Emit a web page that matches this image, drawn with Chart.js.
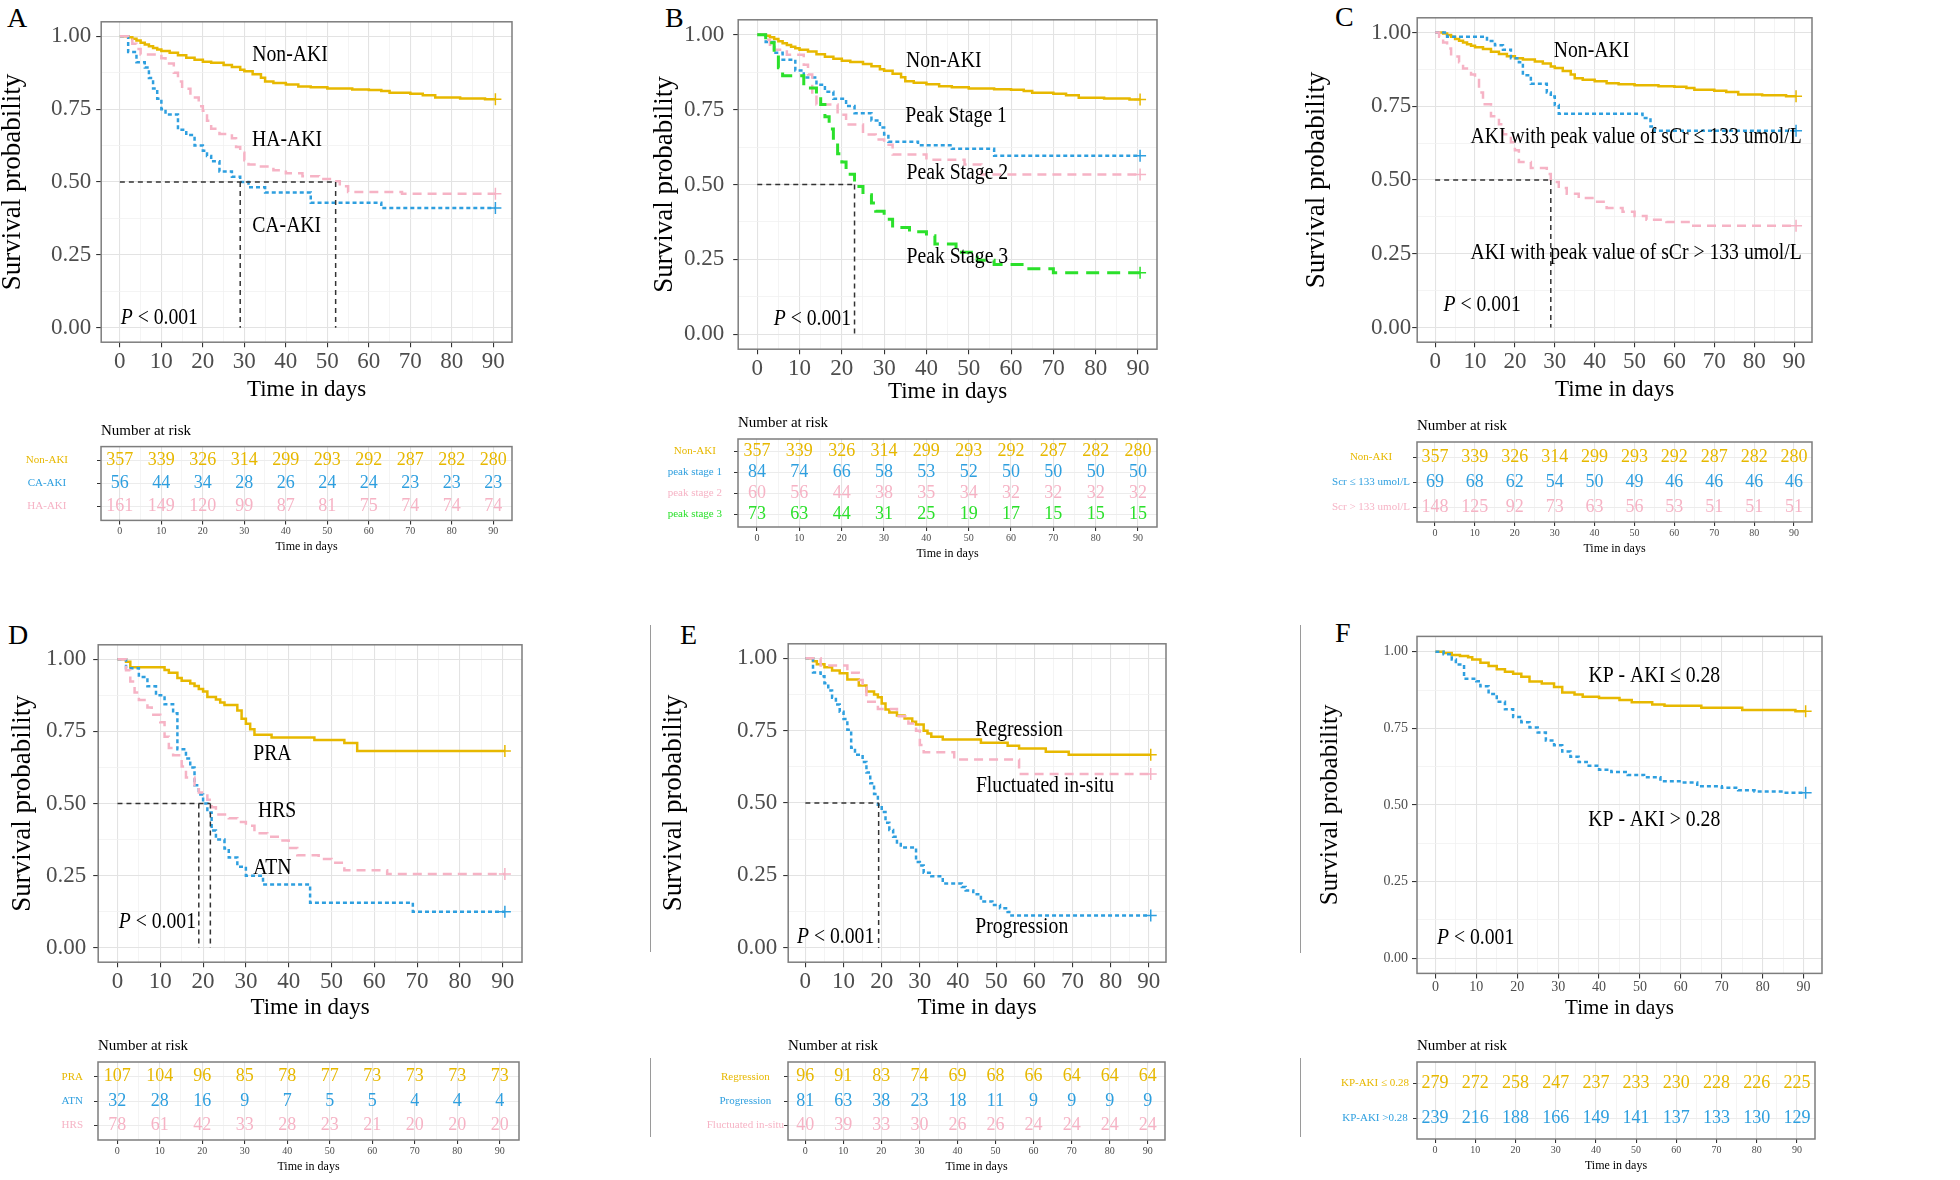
<!DOCTYPE html>
<html>
<head>
<meta charset="utf-8">
<title>Kaplan-Meier survival by AKI subgroups</title>
<script src="https://cdn.jsdelivr.net/npm/chart.js@4.4.1/dist/chart.umd.min.js"></script>
<style>
  body { margin: 0; background: #fff; width: 1960px; height: 1180px; position: relative; overflow: hidden; font-family: 'Liberation Serif', serif; }
  canvas { position: absolute; }
  .tag { position: absolute; font-size: 28px; line-height: 28px; color: #000; }
  .rule { position: absolute; width: 1px; background: #9a9a9a; }
</style>
</head>
<body>
<div class="tag" style="left:7px;top:4px">A</div>
<div class="tag" style="left:665px;top:4px">B</div>
<div class="tag" style="left:1335px;top:3px">C</div>
<div class="tag" style="left:8px;top:621px">D</div>
<div class="tag" style="left:680px;top:621px">E</div>
<div class="tag" style="left:1335px;top:619px">F</div>
<div class="rule" style="left:650px;top:625px;height:327px"></div>
<div class="rule" style="left:650px;top:1058px;height:79px"></div>
<div class="rule" style="left:1300px;top:625px;height:328px"></div>
<div class="rule" style="left:1300px;top:1058px;height:79px"></div>

<canvas id="kmA"></canvas><canvas id="riskA"></canvas>
<canvas id="kmB"></canvas><canvas id="riskB"></canvas>
<canvas id="kmC"></canvas><canvas id="riskC"></canvas>
<canvas id="kmD"></canvas><canvas id="riskD"></canvas>
<canvas id="kmE"></canvas><canvas id="riskE"></canvas>
<canvas id="kmF"></canvas><canvas id="riskF"></canvas>

<script>
// ---- data (time in days, survival probability) ----
const riskTimes = [0, 10, 20, 30, 40, 50, 60, 70, 80, 90];
const xGrid = [0, 5, 10, 15, 20, 25, 30, 35, 40, 45, 50, 55, 60, 65, 70, 75, 80, 85, 90];
const yGrid = [0, 0.125, 0.25, 0.375, 0.5, 0.625, 0.75, 0.875, 1];

// Non-AKI curve is shared by panels A, B and C
const nonAki = [[0,1],[2,0.997],[3,0.992],[4,0.986],[5,0.978],[6,0.972],[7,0.966],[8,0.96],[9,0.955],[10,0.95],[12,0.944],[14,0.935],[16,0.927],[18,0.92],[20,0.913],[22,0.909],[25,0.902],[27,0.895],[29,0.885],[30,0.88],[32,0.87],[34,0.858],[35,0.845],[37,0.84],[40,0.835],[43,0.828],[46,0.825],[50,0.821],[56,0.818],[60,0.816],[63,0.812],[65,0.806],[70,0.803],[73,0.798],[76,0.79],[82,0.787],[88,0.784],[90.5,0.784]];
const riskNonAki = [357, 339, 326, 314, 299, 293, 292, 287, 282, 280];

// A
const aCaAki = [[0,1],[2,0.946],[4,0.911],[6,0.893],[7,0.857],[8,0.821],[9,0.786],[10,0.75],[11,0.732],[14,0.679],[16,0.661],[18,0.625],[20,0.607],[21,0.589],[22,0.571],[24,0.536],[27,0.518],[29,0.5],[31,0.482],[35,0.464],[46,0.429],[63,0.411],[90.5,0.411]];
const aHaAki = [[0,1],[2,0.988],[3,0.975],[4,0.957],[5,0.938],[10,0.925],[11,0.907],[13,0.875],[14,0.845],[15,0.82],[17,0.79],[19,0.76],[20,0.745],[21,0.71],[22,0.683],[24,0.665],[27,0.65],[28,0.62],[29,0.6],[30,0.575],[31,0.56],[34,0.553],[37,0.54],[40,0.53],[44,0.52],[48,0.51],[51,0.503],[53,0.485],[55,0.466],[68,0.46],[90.5,0.46]];
const aMedians = [29, 52];
const aRiskNames = ['Non-AKI', 'CA-AKI', 'HA-AKI'];
const aRiskCaAki = [56, 44, 34, 28, 26, 24, 24, 23, 23, 23];
const aRiskHaAki = [161, 149, 120, 99, 87, 81, 75, 74, 74, 74];

// B
const bStage1 = [[0,1],[2,0.976],[4,0.94],[6,0.917],[9,0.881],[11,0.857],[14,0.833],[16,0.81],[18,0.786],[21,0.762],[23,0.738],[27,0.714],[29,0.69],[30,0.667],[31,0.643],[38,0.631],[46,0.619],[56,0.596],[90.5,0.596]];
const bStage2 = [[0,1],[2,0.983],[3,0.967],[4,0.95],[7,0.933],[11,0.9],[12,0.867],[13,0.8],[14,0.767],[19,0.733],[21,0.7],[25,0.667],[28,0.65],[30,0.633],[32,0.6],[40,0.583],[49,0.567],[53,0.533],[90.5,0.533]];
const bStage3 = [[0,1],[2,0.973],[4,0.932],[5,0.89],[6,0.863],[11,0.822],[14,0.795],[15,0.767],[16,0.726],[17,0.685],[18,0.644],[19,0.603],[20,0.575],[21,0.534],[23,0.493],[25,0.466],[27,0.438],[28,0.411],[30,0.384],[32,0.356],[36,0.342],[40,0.329],[42,0.301],[47,0.274],[52,0.247],[56,0.233],[63,0.219],[70,0.205],[90.5,0.205]];
const bMedians = [23];
const bRiskNames = ['Non-AKI', 'peak stage 1', 'peak stage 2', 'peak stage 3'];
const bRiskStage1 = [84, 74, 66, 58, 53, 52, 50, 50, 50, 50];
const bRiskStage2 = [60, 56, 44, 38, 35, 34, 32, 32, 32, 32];
const bRiskStage3 = [73, 63, 44, 31, 25, 19, 17, 15, 15, 15];

// C
const cLow = [[0,1],[3,0.986],[13,0.971],[15,0.957],[17,0.942],[19,0.913],[21,0.899],[22,0.855],[24,0.826],[28,0.797],[29,0.783],[30,0.754],[31,0.725],[52,0.71],[54,0.681],[55,0.667],[90.5,0.667]];
const cHigh = [[0,1],[1,0.986],[2,0.966],[3,0.946],[4,0.919],[6,0.899],[7,0.878],[9,0.858],[10,0.845],[11,0.797],[12,0.757],[14,0.716],[16,0.689],[17,0.655],[19,0.628],[20,0.601],[21,0.561],[24,0.541],[28,0.52],[29,0.493],[31,0.473],[33,0.453],[36,0.439],[40,0.426],[43,0.405],[47,0.392],[50,0.378],[53,0.365],[58,0.358],[64,0.345],[90.5,0.345]];
const cMedians = [29];
const cRiskNames = ['Non-AKI', 'Scr \u2264 133 umol/L', 'Scr > 133 umol/L'];
const cRiskLow = [69, 68, 62, 54, 50, 49, 46, 46, 46, 46];
const cRiskHigh = [148, 125, 92, 73, 63, 56, 53, 51, 51, 51];

// D
const dPra = [[0,1],[2,0.991],[3,0.972],[11,0.963],[12,0.953],[14,0.935],[15,0.925],[17,0.916],[18,0.907],[19,0.897],[20,0.888],[21,0.869],[23,0.86],[24,0.85],[25,0.841],[28,0.822],[29,0.794],[30,0.776],[31,0.757],[32,0.738],[36,0.729],[46,0.72],[53,0.71],[56,0.682],[90.5,0.682]];
const dAtn = [[0,1],[2,0.969],[5,0.938],[7,0.906],[9,0.875],[11,0.844],[13,0.813],[14,0.688],[16,0.656],[17,0.625],[18,0.563],[19,0.531],[20,0.5],[21,0.469],[22,0.406],[23,0.375],[25,0.344],[26,0.313],[28,0.281],[30,0.25],[34,0.219],[45,0.156],[69,0.125],[90.5,0.125]];
const dHrs = [[0,1],[2,0.962],[3,0.923],[4,0.885],[5,0.859],[7,0.833],[8,0.808],[10,0.782],[11,0.731],[12,0.692],[13,0.667],[15,0.628],[16,0.59],[18,0.564],[19,0.538],[21,0.513],[22,0.487],[23,0.462],[26,0.449],[28,0.436],[30,0.423],[32,0.397],[35,0.385],[38,0.372],[40,0.346],[42,0.321],[47,0.308],[50,0.295],[53,0.269],[63,0.256],[90.5,0.256]];
const dMedians = [19, 21.7];
const dRiskNames = ['PRA', 'ATN', 'HRS'];
const dRiskPra = [107, 104, 96, 85, 78, 77, 73, 73, 73, 73];
const dRiskAtn = [32, 28, 16, 9, 7, 5, 5, 4, 4, 4];
const dRiskHrs = [78, 61, 42, 33, 28, 23, 21, 20, 20, 20];

// E
const eRegression = [[0,1],[2,0.99],[3,0.979],[5,0.969],[7,0.958],[9,0.948],[11,0.927],[14,0.906],[16,0.885],[18,0.875],[19,0.865],[20,0.844],[21,0.823],[22,0.813],[24,0.802],[26,0.792],[28,0.781],[29,0.771],[31,0.75],[32,0.74],[33,0.729],[36,0.719],[46,0.708],[53,0.698],[56,0.688],[63,0.677],[69,0.667],[90.5,0.667]];
const eProgression = [[0,1],[2,0.951],[4,0.938],[5,0.914],[6,0.889],[7,0.864],[8,0.84],[9,0.815],[10,0.79],[11,0.753],[12,0.691],[13,0.667],[15,0.642],[16,0.605],[17,0.568],[18,0.531],[19,0.494],[20,0.469],[21,0.432],[22,0.407],[23,0.383],[24,0.358],[25,0.346],[29,0.296],[30,0.284],[31,0.259],[33,0.247],[36,0.222],[41,0.21],[42,0.198],[44,0.185],[46,0.16],[49,0.148],[51,0.136],[53,0.123],[54,0.111],[90.5,0.111]];
const eFluctuated = [[0,1],[4,0.975],[11,0.95],[14,0.925],[15,0.9],[16,0.85],[19,0.825],[24,0.8],[27,0.775],[29,0.75],[30,0.7],[31,0.675],[39,0.65],[56,0.6],[90.5,0.6]];
const eMedians = [19.2];
const eRiskNames = ['Regression', 'Progression', 'Fluctuated in-situ'];
const eRiskRegression = [96, 91, 83, 74, 69, 68, 66, 64, 64, 64];
const eRiskProgression = [81, 63, 38, 23, 18, 11, 9, 9, 9, 9];
const eRiskFluctuated = [40, 39, 33, 30, 26, 26, 24, 24, 24, 24];

// F
const fLow = [[0,1],[2,0.996],[4,0.989],[6,0.986],[8,0.982],[9,0.975],[11,0.964],[13,0.953],[15,0.943],[17,0.935],[19,0.928],[21,0.918],[23,0.903],[26,0.896],[29,0.885],[31,0.867],[34,0.86],[36,0.853],[40,0.849],[45,0.842],[48,0.835],[53,0.828],[56,0.824],[65,0.817],[75,0.81],[88,0.806],[90.5,0.806]];
const fHigh = [[0,1],[2,0.992],[4,0.975],[5,0.958],[7,0.912],[10,0.904],[11,0.887],[13,0.862],[15,0.837],[17,0.812],[19,0.787],[21,0.77],[23,0.753],[25,0.736],[27,0.71],[29,0.695],[31,0.674],[33,0.657],[35,0.64],[37,0.628],[40,0.615],[43,0.607],[47,0.598],[51,0.59],[55,0.577],[60,0.573],[64,0.561],[70,0.556],[74,0.548],[78,0.544],[85,0.54],[90.5,0.54]];
const fRiskNames = ['KP-AKI \u2264 0.28', 'KP-AKI >0.28'];
const fRiskLow = [279, 272, 258, 247, 237, 233, 230, 228, 226, 225];
const fRiskHigh = [239, 216, 188, 166, 149, 141, 137, 133, 130, 129];

// ---- styling ----
const GOLD = '#E7B800', BLUE = '#2E9FDF', PINK = '#F6B3C5', GREEN = '#2BE02B';
const SOLID = [], DOTS = [4, 3], DASH = [9, 6], LONG = [13, 8];
const FONT = "'Liberation Serif', 'Times New Roman', serif";
Chart.defaults.font.family = FONT;

function isMult(v, s) { return Math.abs(v / s - Math.round(v / s)) < 1e-6; }

function place(cv, left, top, w, h) {
  cv.width = Math.round(w); cv.height = Math.round(h);
  cv.style.left = Math.round(left) + 'px'; cv.style.top = Math.round(top) + 'px';
  cv.style.width = Math.round(w) + 'px'; cv.style.height = Math.round(h) + 'px';
}

// draws text a little narrower than the font (the figure is squeezed horizontally)
function squeezed(ctx, parts, x, y, size, align) {
  ctx.save();
  ctx.translate(x, y);
  ctx.scale(0.82, 1);
  let w = 0;
  parts.forEach(p => { ctx.font = p[1] + ' ' + size + 'px ' + FONT; w += ctx.measureText(p[0]).width; });
  let cx = align === 'center' ? -w / 2 : 0;
  ctx.textBaseline = 'middle'; ctx.textAlign = 'left'; ctx.fillStyle = '#000';
  parts.forEach(p => {
    ctx.font = p[1] + ' ' + size + 'px ' + FONT;
    ctx.fillText(p[0], cx, 0);
    cx += ctx.measureText(p[0]).width;
  });
  ctx.restore();
}

const frame = {
  id: 'frame',
  afterDraw(chart) {
    const { ctx, chartArea: a } = chart;
    ctx.save();
    ctx.strokeStyle = '#7d7d7d'; ctx.lineWidth = 1.5;
    ctx.strokeRect(a.left, a.top, a.right - a.left, a.bottom - a.top);
    ctx.restore();
  }
};

function gridStyle(step) {
  return {
    color: c => (c.tick && isMult(c.tick.value, step)) ? '#e3e3e3' : '#f1f1f1',
    lineWidth: c => (c.tick && isMult(c.tick.value, step)) ? 1.1 : 0.8,
    tickLength: 5,
    tickColor: c => (c.tick && isMult(c.tick.value, step)) ? '#333' : 'rgba(0,0,0,0)'
  };
}

function kmChart(id, g, series, medians, notes) {
  const cv = document.getElementById(id);
  const left = g.yTitleX - g.yFont * 0.6, top = g.t - 4;
  const right = g.r + 8, bottom = g.xTitleY + g.xFont * 0.6;
  place(cv, left, top, right - left, bottom - top);

  const datasets = [];
  if (medians.length) {
    const far = Math.max(...medians);
    const guide = pts => ({ data: pts.map(p => ({ x: p[0], y: p[1] })), borderColor: '#333', borderWidth: 1.5, borderDash: [5, 4], pointRadius: 0 });
    datasets.push(guide([[0, 0.5], [far, 0.5]]));
    medians.forEach(m => datasets.push(guide([[m, 0.5], [m, 0]])));
  }
  series.forEach(s => {
    const n = s.pts.length;
    datasets.push({
      data: s.pts.map(p => ({ x: p[0], y: p[1] })),
      stepped: true,
      borderColor: s.color, borderWidth: s.width || 2.5, borderDash: s.dash,
      pointStyle: 'cross', pointBorderColor: s.color, pointBorderWidth: 1.5,
      pointRadius: c => c.dataIndex === n - 1 ? 6 : 0
    });
  });

  const notesPlugin = {
    id: 'notes',
    afterDatasetsDraw(chart) {
      const xs = chart.scales.x, ys = chart.scales.y;
      notes.forEach(n => {
        const parts = n.p ? [['P', 'italic'], [' < 0.001', 'normal']] : [[n.text, 'normal']];
        squeezed(chart.ctx, parts, xs.getPixelForValue(n.x), ys.getPixelForValue(n.y), g.noteFont, n.p ? 'left' : 'center');
      });
    }
  };

  new Chart(cv, {
    type: 'line',
    data: { datasets },
    options: {
      responsive: false, animation: false,
      layout: { padding: { top: g.t - top, right: right - g.r, left: 0, bottom: 0 } },
      plugins: { legend: { display: false }, tooltip: { enabled: false } },
      scales: {
        x: {
          type: 'linear', min: -4.5, max: 94.5,
          afterBuildTicks: s => { s.ticks = xGrid.map(v => ({ value: v })); },
          afterFit: s => { s.height = bottom - g.b; },
          ticks: { autoSkip: false, maxRotation: 0, padding: 1, color: '#4d4d4d', font: { size: g.tickFont },
                   callback: v => isMult(v, 10) ? String(v) : '' },
          grid: gridStyle(10),
          border: { display: false },
          title: { display: true, text: 'Time in days', color: '#000', font: { size: g.xFont }, padding: 0 }
        },
        y: {
          type: 'linear', min: -0.05, max: 1.05,
          afterBuildTicks: s => { s.ticks = yGrid.map(v => ({ value: v })); },
          afterFit: s => { s.width = g.l - left; },
          ticks: { autoSkip: false, padding: g.yPad, color: '#4d4d4d', font: { size: g.tickFont },
                   callback: v => isMult(v, 0.25) ? v.toFixed(2) : '' },
          grid: gridStyle(0.25),
          border: { display: false },
          title: { display: true, text: 'Survival probability', color: '#000', font: { size: g.yFont }, padding: 0 }
        }
      }
    },
    plugins: [frame, notesPlugin]
  });
}

function riskChart(id, g, names, rows, colors) {
  const cv = document.getElementById(id);
  const left = g.l - 120, top = g.t - 30, right = g.r + 6, bottom = g.b + 34;
  place(cv, left, top, right - left, bottom - top);

  const cells = {
    id: 'cells',
    afterDraw(chart) {
      const { ctx, chartArea: a } = chart;
      const xs = chart.scales.x, ys = chart.scales.y;
      ctx.save();
      ctx.textAlign = 'center'; ctx.textBaseline = 'middle';
      ctx.font = '18px ' + FONT;
      rows.forEach((r, i) => {
        ctx.fillStyle = colors[i];
        r.forEach((v, j) => ctx.fillText(String(v), xs.getPixelForValue(riskTimes[j]), ys.getPixelForValue(i + 1)));
      });
      ctx.fillStyle = '#000'; ctx.textAlign = 'left';
      ctx.font = '15px ' + FONT;
      ctx.fillText('Number at risk', a.left, a.top - 16);
      ctx.restore();
    }
  };

  new Chart(cv, {
    type: 'line',
    data: { datasets: [{ data: [] }] },
    options: {
      responsive: false, animation: false,
      layout: { padding: { top: g.t - top, right: right - g.r, left: 0, bottom: 0 } },
      plugins: { legend: { display: false }, tooltip: { enabled: false } },
      scales: {
        x: {
          type: 'linear', min: -4.5, max: 94.5,
          afterBuildTicks: s => { s.ticks = xGrid.map(v => ({ value: v })); },
          afterFit: s => { s.height = bottom - g.b; },
          ticks: { autoSkip: false, maxRotation: 0, padding: 1, color: '#4d4d4d', font: { size: 10 },
                   callback: v => isMult(v, 10) ? String(v) : '' },
          grid: Object.assign(gridStyle(10), { tickLength: 4 }),
          border: { display: false },
          title: { display: true, text: 'Time in days', color: '#000', font: { size: 12 }, padding: 0 }
        },
        y: {
          type: 'linear', reverse: true, min: 0.4, max: names.length + 0.6,
          afterBuildTicks: s => { s.ticks = names.map((n, i) => ({ value: i + 1 })); },
          afterFit: s => { s.width = g.l - left; },
          ticks: { autoSkip: false, crossAlign: 'center', padding: g.pad, font: { size: 11 },
                   color: c => colors[c.index], callback: v => names[Math.round(v) - 1] },
          grid: { color: '#ececec', lineWidth: 1, tickLength: 4, tickColor: '#333' },
          border: { display: false }
        }
      }
    },
    plugins: [frame, cells]
  });
}

// ---- panels ----
const big = { yFont: 27, xFont: 23, tickFont: 23, noteFont: 24 };

kmChart('kmA', Object.assign({ l: 101, t: 7, r: 512, b: 342, yTitleX: 13, xTitleY: 390, yPad: 5 }, big),
  [{ pts: aHaAki, color: PINK, dash: DASH }, { pts: aCaAki, color: BLUE, dash: DOTS }, { pts: nonAki, color: GOLD, dash: SOLID }],
  aMedians,
  [{ text: 'Non-AKI', x: 41, y: 0.937 }, { text: 'HA-AKI', x: 40.3, y: 0.645 }, { text: 'CA-AKI', x: 40.2, y: 0.35 }, { p: true, x: 0.2, y: 0.033 }]);
riskChart('riskA', { l: 101, t: 441, r: 512, b: 522, pad: 29 }, aRiskNames,
  [riskNonAki, aRiskCaAki, aRiskHaAki], [GOLD, BLUE, PINK]);

kmChart('kmB', Object.assign({ l: 738, t: 1, r: 1157, b: 349, yTitleX: 665, xTitleY: 392, yPad: 9 }, big),
  [{ pts: bStage3, color: GREEN, dash: LONG, width: 3 }, { pts: bStage2, color: PINK, dash: DASH }, { pts: bStage1, color: BLUE, dash: DOTS }, { pts: nonAki, color: GOLD, dash: SOLID }],
  bMedians,
  [{ text: 'Non-AKI', x: 44.1, y: 0.914 }, { text: 'Peak Stage 1', x: 47, y: 0.73 }, { text: 'Peak Stage 2', x: 47.3, y: 0.541 }, { text: 'Peak Stage 3', x: 47.3, y: 0.26 }, { p: true, x: 3.9, y: 0.053 }]);
riskChart('riskB', { l: 738, t: 439, r: 1157, b: 527, pad: 12 }, bRiskNames,
  [riskNonAki, bRiskStage1, bRiskStage2, bRiskStage3], [GOLD, BLUE, PINK, GREEN]);

kmChart('kmC', Object.assign({ l: 1417, t: 7, r: 1812, b: 342, yTitleX: 1317, xTitleY: 390, yPad: 1 }, big),
  [{ pts: cHigh, color: PINK, dash: DASH }, { pts: cLow, color: BLUE, dash: DOTS }, { pts: nonAki, color: GOLD, dash: SOLID }],
  cMedians,
  [{ text: 'Non-AKI', x: 39.2, y: 0.937 }, { text: 'AKI with peak value of sCr \u2264 133 umol/L', x: 50.4, y: 0.647 },
   { text: 'AKI with peak value of sCr > 133 umol/L', x: 50.4, y: 0.252 }, { p: true, x: 2.1, y: 0.077 }]);
riskChart('riskC', { l: 1417, t: 442, r: 1812, b: 522, pad: 3 }, cRiskNames,
  [riskNonAki, cRiskLow, cRiskHigh], [GOLD, BLUE, PINK]);

kmChart('kmD', Object.assign({ l: 98, t: 628, r: 522, b: 962, yTitleX: 23, xTitleY: 1008, yPad: 7 }, big),
  [{ pts: dHrs, color: PINK, dash: DASH }, { pts: dAtn, color: BLUE, dash: DOTS }, { pts: dPra, color: GOLD, dash: SOLID }],
  dMedians,
  [{ text: 'PRA', x: 36.2, y: 0.671 }, { text: 'HRS', x: 37.3, y: 0.476 }, { text: 'ATN', x: 36.2, y: 0.279 }, { p: true, x: 0.3, y: 0.091 }]);
riskChart('riskD', { l: 98, t: 1062, r: 519, b: 1140, pad: 11 }, dRiskNames,
  [dRiskPra, dRiskAtn, dRiskHrs], [GOLD, BLUE, PINK]);

kmChart('kmE', Object.assign({ l: 788, t: 628, r: 1166, b: 962, yTitleX: 674, xTitleY: 1008, yPad: 6 }, big),
  [{ pts: eFluctuated, color: PINK, dash: DASH }, { pts: eProgression, color: BLUE, dash: DOTS }, { pts: eRegression, color: GOLD, dash: SOLID }],
  eMedians,
  [{ text: 'Regression', x: 56, y: 0.754 }, { text: 'Fluctuated in-situ', x: 62.8, y: 0.559 }, { text: 'Progression', x: 56.7, y: 0.071 }, { p: true, x: -2.2, y: 0.038 }]);
riskChart('riskE', { l: 788, t: 1062, r: 1165, b: 1140, pad: 0 }, eRiskNames,
  [eRiskRegression, eRiskProgression, eRiskFluctuated], [GOLD, BLUE, PINK]);

kmChart('kmF', { l: 1417, t: 628, r: 1822, b: 973, yTitleX: 1330, xTitleY: 1008, yPad: 4, yFont: 25, xFont: 21, tickFont: 14, noteFont: 24 },
  [{ pts: fHigh, color: BLUE, dash: DOTS }, { pts: fLow, color: GOLD, dash: SOLID }],
  [],
  [{ text: 'KP - AKI \u2264 0.28', x: 53.5, y: 0.923 }, { text: 'KP - AKI > 0.28', x: 53.5, y: 0.452 }, { p: true, x: 0.4, y: 0.067 }]);
riskChart('riskF', { l: 1417, t: 1062, r: 1815, b: 1139, pad: 4 }, fRiskNames,
  [fRiskLow, fRiskHigh], [GOLD, BLUE]);
</script>
</body>
</html>
